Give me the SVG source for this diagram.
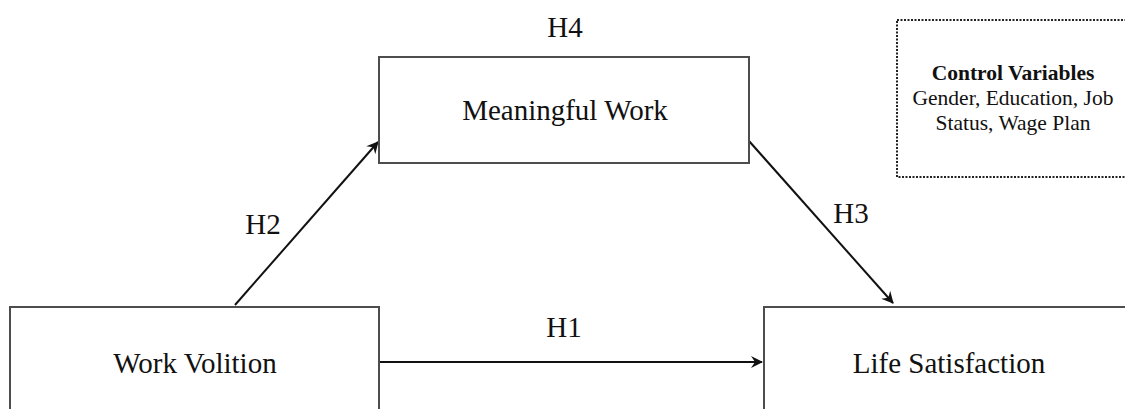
<svg xmlns="http://www.w3.org/2000/svg" width="1125" height="409" viewBox="0 0 1125 409">
<defs>
<style>
.box{fill:#fff;stroke:#4d4d4d;stroke-width:2}
.ctrl{fill:#fff;stroke:#222;stroke-width:2;stroke-dasharray:2 1.5}
.t{font-family:"Liberation Serif","Times New Roman",serif;fill:#111;text-anchor:middle}
.big{font-size:29px}
.sm{font-size:21.5px}
.edge{stroke:#111;stroke-width:2;fill:none;marker-end:url(#ah)}
</style>
<marker id="ah" viewBox="0 0 12 12" refX="11" refY="6" markerWidth="12" markerHeight="12" markerUnits="userSpaceOnUse" orient="auto">
<path d="M0,0 L12,6 L0,12 L4,6 Z" fill="#111"/>
</marker>
</defs>
<rect width="1125" height="409" fill="#fff"/>
<g id="connectors">
<line class="edge" x1="235" y1="305" x2="378" y2="142"/>
<line class="edge" x1="749" y1="141" x2="893" y2="303"/>
<line class="edge" x1="380" y1="362" x2="762" y2="362"/>
<text class="t big" x="263" y="234">H2</text>
<text class="t big" x="851" y="223">H3</text>
<text class="t big" x="564" y="337">H1</text>
<text class="t big" x="565" y="37">H4</text>
</g>
<g id="work-volition">
<rect class="box" x="10" y="307" width="369" height="120"/>
<text class="t big" x="195" y="373">Work Volition</text>
</g>
<g id="meaningful-work">
<rect class="box" x="379" y="57" width="370" height="106"/>
<text class="t big" x="565" y="120">Meaningful Work</text>
</g>
<g id="life-satisfaction">
<rect class="box" x="764" y="307" width="380" height="120"/>
<text class="t big" x="949" y="373">Life Satisfaction</text>
</g>
<g id="control-variables">
<rect class="ctrl" x="897" y="20" width="240" height="157"/>
<text class="t sm" x="1013" y="80" font-weight="bold">Control Variables</text>
<text class="t sm" x="1013" y="105">Gender, Education, Job</text>
<text class="t sm" x="1013" y="130">Status, Wage Plan</text>
</g>
</svg>
